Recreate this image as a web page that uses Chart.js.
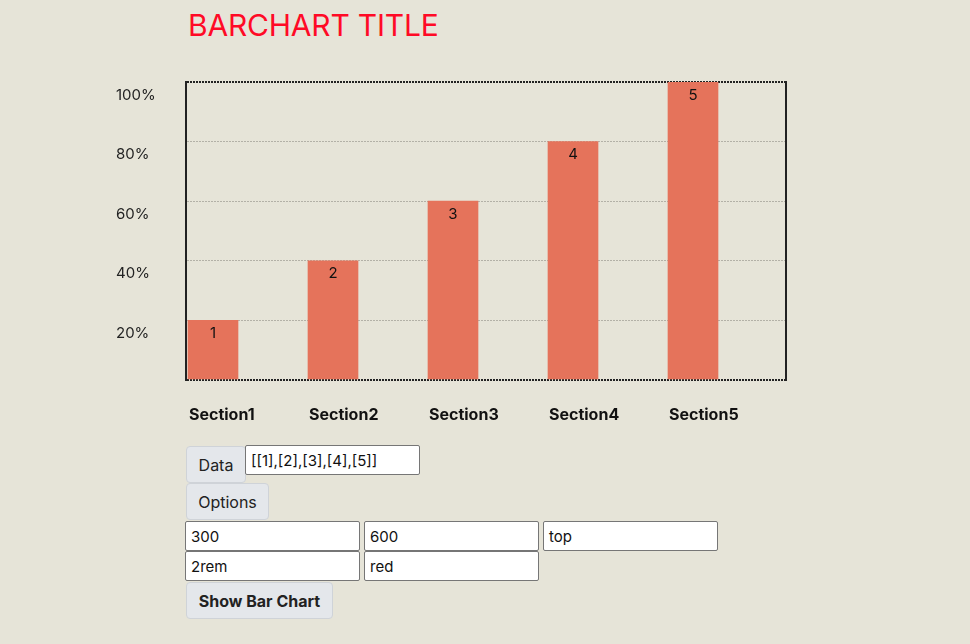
<!DOCTYPE html>
<html>
<head>
<meta charset="utf-8">
<script src="https://cdn.jsdelivr.net/npm/chart.js@4"></script>
<style>
  body { margin:0; background:#e6e4d8; font-family:'Inter','Liberation Sans',sans-serif; width:970px; height:644px; overflow:hidden; position:relative; }
  h1 { position:absolute; left:188px; top:7px; margin:0; font-weight:400; font-size:30px; color:#ff0a26; letter-spacing:-0.2px; }
  #wrap { position:absolute; left:100px; top:60px; width:700px; height:380px; }
  .btn { position:absolute; background:#e4e7eb; border:1px solid #cfd3d8; border-radius:4px; font:16px 'Inter',sans-serif; color:#222; box-sizing:border-box; display:flex; align-items:center; justify-content:center; }
  .inp { position:absolute; background:#fff; border:1px solid #767676; border-radius:2px; font:15px 'Inter',sans-serif; color:#111; box-sizing:border-box; padding-left:5px; display:flex; align-items:center; }
</style>
</head>
<body>
<h1>BARCHART TITLE</h1>
<div id="wrap"><canvas id="bar"></canvas></div>

<div class="btn" style="left:186px;top:446px;width:60px;height:37px;">Data</div>
<div class="inp" style="left:245px;top:445px;width:175px;height:30px;">[[1],[2],[3],[4],[5]]</div>
<div class="btn" style="left:186px;top:483px;width:83px;height:37px;">Options</div>
<div class="inp" style="left:185px;top:521px;width:175px;height:30px;">300</div>
<div class="inp" style="left:364px;top:521px;width:175px;height:30px;">600</div>
<div class="inp" style="left:543px;top:521px;width:175px;height:30px;">top</div>
<div class="inp" style="left:185px;top:551px;width:175px;height:30px;">2rem</div>
<div class="inp" style="left:364px;top:551px;width:175px;height:30px;">red</div>
<div class="btn" style="left:186px;top:582px;width:147px;height:37px;font-weight:700;">Show Bar Chart</div>

<script>
// ── DATA ─────────────────────────────
const categories  = ['Section1','Section2','Section3','Section4','Section5'];
const values      = [1, 2, 3, 4, 5];
const yTickLabels = ['', '20%', '40%', '60%', '80%', '100%'];

const BAR_COLOR  = '#e5735b';
const FRAME      = '#222';
const GRID_LIGHT = '#b3b1a7';

// value labels inside the top of each bar
const barLabels = {
  id: 'barLabels',
  afterDatasetsDraw(chart) {
    const { ctx } = chart;
    const meta = chart.getDatasetMeta(0);
    ctx.save();
    ctx.font = "15px Inter, 'Liberation Sans', sans-serif";
    ctx.fillStyle = '#111';
    ctx.textAlign = 'center';
    ctx.textBaseline = 'middle';
    meta.data.forEach((el, i) => {
      ctx.fillText(String(values[i]), el.x, el.y + 13);
    });
    ctx.restore();
  }
};

new Chart(document.getElementById('bar'), {
  type: 'bar',
  data: {
    datasets: [{
      data: categories.map((c, i) => ({ x: i, y: values[i] })),
      backgroundColor: BAR_COLOR,
      barThickness: 50,
      xAxisID: 'x', yAxisID: 'y'
    }]
  },
  options: {
    responsive: true, maintainAspectRatio: false, animation: false,
    layout: { padding: { left: 16, top: 22, right: 14, bottom: 0 } },
    plugins: { legend: { display: false }, tooltip: { enabled: false } },
    scales: {
      // bars sit at the left of each 120px section
      x: { type: 'linear', display: false, offset: false, min: -0.225, max: 4.775 },
      xl: {
        type: 'linear', position: 'bottom', offset: false, min: -0.025, max: 4.975,
        grid: { display: false }, border: { display: false },
        afterBuildTicks: s => { s.ticks = categories.map((c, i) => ({ value: i })); },
        ticks: {
          autoSkip: false, maxRotation: 0,
          align: 'start', padding: 18, color: '#111',
          font: { family: "Inter, 'Liberation Sans', sans-serif", size: 16, weight: 'bold' },
          callback: v => categories[v] ?? ''
        },
        afterFit: s => { s.height = 60; }
      },
      y: {
        min: 0, max: 5,
        border: { color: FRAME, width: 2, dash: [2, 1] },
        grid: {
          drawTicks: false,
          color: c => (c.tick.value === 0 || c.tick.value === 5) ? FRAME : GRID_LIGHT,
          lineWidth: c => (c.tick.value === 0 || c.tick.value === 5) ? 2 : 1
        },
        ticks: {
          stepSize: 1, crossAlign: 'far', labelOffset: 13, color: '#222',
          font: { family: "Inter, 'Liberation Sans', sans-serif", size: 15 },
          callback: v => yTickLabels[v]
        },
        afterFit: s => { s.width = 70; }
      },
      yr: {
        position: 'right', min: 0, max: 5,
        grid: { display: false },
        ticks: { display: false },
        border: { color: FRAME, width: 2 },
        afterFit: s => { s.width = 0; }
      }
    }
  },
  plugins: [barLabels]
});
</script>
</body>
</html>
